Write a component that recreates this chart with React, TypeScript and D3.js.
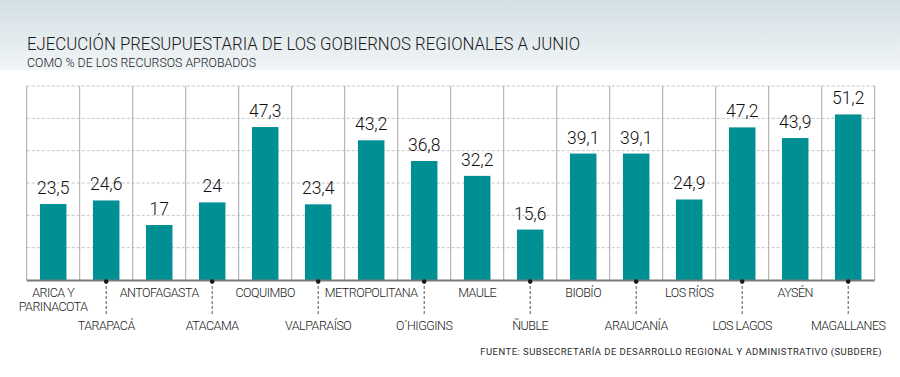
import React from 'react';
import * as d3 from 'd3';

const categories: string[] = [
  'ARICA Y\nPARINACOTA', 'TARAPACÁ', 'ANTOFAGASTA', 'ATACAMA', 'COQUIMBO', 'VALPARAÍSO',
  'METROPOLITANA', 'O´HIGGINS', 'MAULE', 'ÑUBLE', 'BIOBÍO', 'ARAUCANÍA',
  'LOS RÍOS', 'LOS LAGOS', 'AYSÉN', 'MAGALLANES',
];
const values: number[] = [23.5, 24.6, 17, 24, 47.3, 23.4, 43.2, 36.8, 32.2, 15.6, 39.1, 39.1, 24.9, 47.2, 43.9, 51.2];
const yTicks: number[] = [10, 20, 30, 40, 50, 60];

const title = 'EJECUCIÓN PRESUPUESTARIA DE LOS GOBIERNOS REGIONALES A JUNIO';
const subtitle = 'COMO % DE LOS RECURSOS APROBADOS';
const source = 'FUENTE: SUBSECRETARÍA DE DESARROLLO REGIONAL Y ADMINISTRATIVO (SUBDERE)';

const W = 900;
const H = 377;
const FONT = 'Roboto, sans-serif';

export default function App() {
  const x = d3.scaleBand<string>().domain(categories).range([26.7, 874.7]).paddingInner(0).paddingOuter(0);
  const y = d3.scaleLinear().domain([0, 60]).range([280, 86]);
  const bw = x.bandwidth();
  const barW = bw * 0.5;
  const fmt = (v: number) => String(v).replace('.', ',');
  const edges = categories.map((c) => x(c) as number).concat([x.range()[1]]);

  return (
    <svg width={W} height={H} style={{ position: 'absolute', left: 0, top: 0, background: '#fff' }} fontFamily={FONT}>
      <defs>
        <linearGradient id="bg" x1="0" y1="0" x2="0" y2="1">
          <stop offset="0" stopColor="#d3dfe4" />
          <stop offset="1" stopColor="#f1f5f7" />
        </linearGradient>
      </defs>
      <rect x={0} y={0} width={W} height={70} fill="url(#bg)" />
      <text x={27} y={50} fontSize={19} fontWeight={300} fill="#1a1a1a" textLength={553} lengthAdjust="spacingAndGlyphs">{title}</text>
      <text x={27} y={67} fontSize={13} fontWeight={300} fill="#1a1a1a" textLength={229} lengthAdjust="spacingAndGlyphs">{subtitle}</text>

      {yTicks.map((t) => (
        <line key={t} x1={x.range()[0]} x2={x.range()[1]} y1={y(t)} y2={y(t)} stroke="#c4c4c4" strokeDasharray="3,2" strokeWidth={1} />
      ))}
      {edges.map((e, i) => (
        <line key={i} x1={e} x2={e} y1={y(60)} y2={y(0)} stroke="#a8a8a8" strokeWidth={1} />
      ))}

      {categories.map((c, i) => {
        const cx = (x(c) as number) + bw / 2;
        return (
          <g key={c}>
            <rect x={cx - barW / 2} y={y(values[i])} width={barW} height={y(0) - y(values[i])} fill="#008f93" />
            <text x={cx} y={y(values[i]) - 10} textAnchor="middle" fontSize={17.5} fontWeight={300} fill="#111">{fmt(values[i])}</text>
          </g>
        );
      })}

      <line x1={x.range()[0]} x2={x.range()[1]} y1={y(0) + 0.5} y2={y(0) + 0.5} stroke="#7a7a7a" strokeWidth={2} />

      {categories.map((c, i) => {
        const cx = (x(c) as number) + bw / 2;
        const lines = c.split('\n');
        if (i % 2 === 0) {
          return (
            <text key={c} x={cx} y={297} textAnchor="middle" fontSize={12.5} fontWeight={300} fill="#1a1a1a" letterSpacing={-0.5}>
              {lines.map((l, j) => (
                <tspan key={j} x={cx} dy={j === 0 ? 0 : 13.5}>{l}</tspan>
              ))}
            </text>
          );
        }
        return (
          <g key={c}>
            <line x1={cx} x2={cx} y1={281} y2={314} stroke="#555" strokeDasharray="3,2" strokeWidth={1} />
            <circle cx={cx} cy={281.5} r={2.3} fill="#1a1a1a" />
            <text x={cx} y={330} textAnchor="middle" fontSize={12.5} fontWeight={300} fill="#1a1a1a" letterSpacing={-0.5}>{c}</text>
          </g>
        );
      })}

      <text x={882} y={355} textAnchor="end" fontSize={9.5} fill="#2a2a2a" letterSpacing={0.45}>{source}</text>
    </svg>
  );
}
